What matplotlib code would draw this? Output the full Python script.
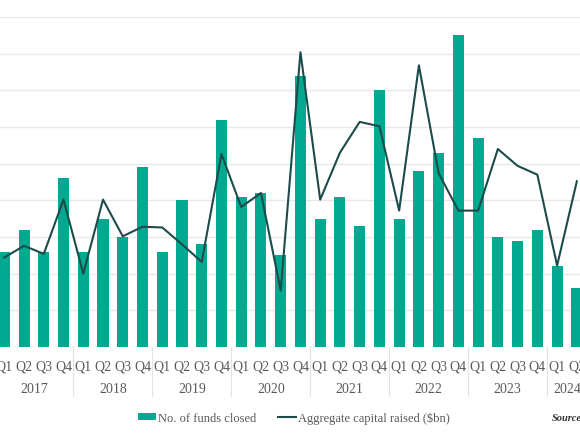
import matplotlib.pyplot as plt
import matplotlib.transforms as mtransforms
import numpy as np

years = ['2017', '2018', '2019', '2020', '2021', '2022', '2023', '2024']
quarters = ['Q1', 'Q2', 'Q3', 'Q4']

funds_closed = [26, 32, 26, 46, 26, 35, 30, 49, 26, 40, 28, 62, 41, 42, 25,
                74, 35, 41, 33, 70, 35, 48, 53, 85, 57, 30, 29, 32, 22, 16]
capital_bn = [12.2, 13.8, 12.7, 20.1, 10.0, 20.1, 15.1, 16.4, 16.3, 14.0,
              11.6, 26.3, 19.1, 21.0, 7.7, 40.2, 20.1, 26.5, 30.7, 30.1,
              18.6, 38.4, 23.7, 18.6, 18.6, 27.0, 24.7, 23.5, 11.1, 22.6]

bar_col = '#00a98f'
line_col = '#1d4b4c'
txt_col = '#595959'
serif = ['Liberation Serif', 'DejaVu Serif']

n = len(funds_closed)
x = np.arange(n)
q_labels = [quarters[i % 4] for i in range(n)]

fig = plt.figure(figsize=(5.8, 4.35), dpi=100)
ax = fig.add_axes([0, 0.2, 1, 0.7586])
ax2 = ax.twinx()

bars = ax.bar(x, funds_closed, width=0.56, color=bar_col, zorder=2,
              label='No. of funds closed')
line, = ax2.plot(x, capital_bn, color=line_col, lw=1.5, zorder=3,
                 label='Aggregate capital raised ($bn)')

ax.set_xlim(-0.218, 29.16)
ax.set_ylim(0, 90)
ax2.set_ylim(0, 45)
ax.set_yticks(np.arange(0, 91, 10))
ax.yaxis.grid(True, color='#e8e8e8', lw=1, zorder=0)
ax.set_axisbelow(True)
for a in (ax, ax2):
    for s in a.spines.values():
        s.set_visible(False)
    a.tick_params(left=False, right=False, bottom=False,
                  labelleft=False, labelright=False, labelbottom=False)
ax.set_zorder(ax2.get_zorder() - 1)
ax.patch.set_visible(False)

trans = mtransforms.blended_transform_factory(ax.transData, ax.transAxes)
for i, q in enumerate(q_labels):
    ax.text(i, -0.058, q, transform=trans, ha='center', va='center',
            fontsize=10, color=txt_col, family=serif)
for j, yr in enumerate(years):
    idx = [i for i in x if i // 4 == j]
    ax.text(np.mean(idx), -0.125, yr, transform=trans, ha='center',
            va='center', fontsize=10, color=txt_col, family=serif)
    ax.plot([j * 4 - 0.5, j * 4 - 0.5], [0, -0.148], transform=trans,
            color='#e3e3e3', lw=0.8, clip_on=False)

fig.legend(handles=[bars, line], loc='center', bbox_to_anchor=(0.506, 0.037),
           ncol=2, frameon=False, handlelength=1.5, handleheight=0.5,
           handletextpad=0.1, columnspacing=1.75,
           prop={'family': serif, 'size': 9}, labelcolor=txt_col)
fig.text(0.951, 0.037, 'Source:', ha='left', va='center', fontsize=7.5,
         style='italic', weight='bold', color='#333333', family=serif)

fig.savefig('out.png', dpi=100)
